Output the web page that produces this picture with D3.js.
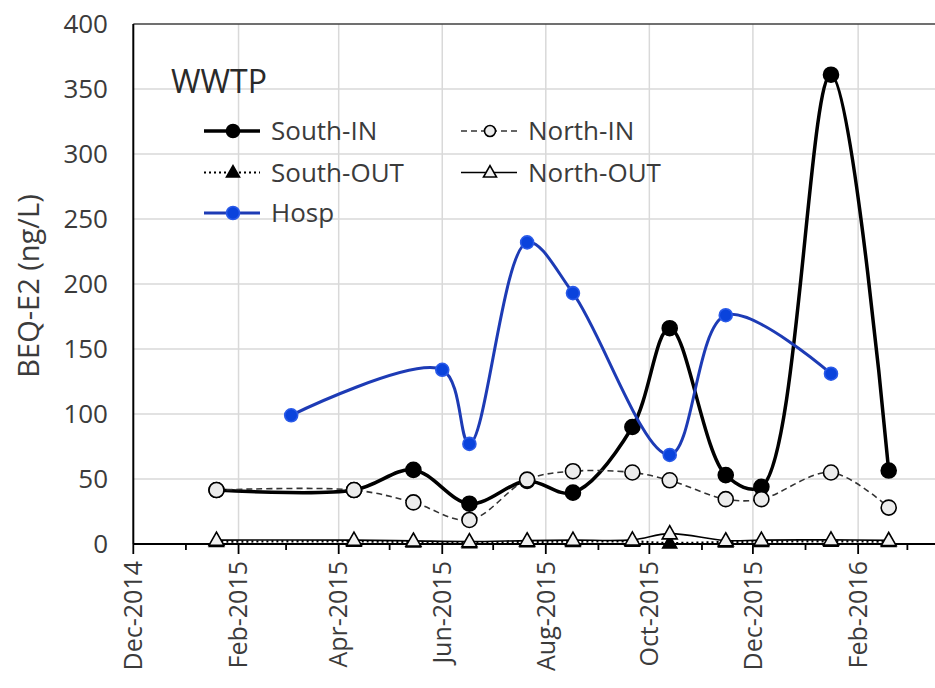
<!DOCTYPE html>
<html>
<head>
<meta charset="utf-8">
<script src="https://cdn.jsdelivr.net/npm/d3@7"></script>
<style>
  html, body { margin: 0; padding: 0; background: #ffffff; }
  svg { display: block; font-family: "Open Sans", "Noto Sans", sans-serif; }
</style>
</head>
<body>
<svg id="chart" width="935" height="688"></svg>
<script>
// Sampling dates shared by the WWTP influent/effluent series
const sampleDates = ["2015-01-19", "2015-04-10", "2015-05-15", "2015-06-17", "2015-07-21", "2015-08-17",
                     "2015-09-21", "2015-10-13", "2015-11-15", "2015-12-06", "2016-01-16", "2016-02-19"];
const southIn  = [41.5, 41.5, 57, 31, 48.5, 39.5, 90, 166, 53, 44, 361, 56.5];
const northIn  = [41.5, 41.5, 32, 18.5, 49.5, 56, 55, 49, 34.5, 34.5, 55, 28];
const southOut = [1.8, 2.0, 1.5, 1.0, 1.6, 1.8, 2.0, 0.8, 1.5, 1.8, 2.0, 1.8];
const northOut = [3.0, 3.0, 2.4, 1.9, 2.6, 3.0, 3.2, 8.0, 2.6, 3.0, 3.2, 2.8];

// Hospital effluent has its own sampling dates
const hospDates = ["2015-03-04", "2015-06-01", "2015-06-17", "2015-07-21", "2015-08-17", "2015-10-13",
                   "2015-11-15", "2016-01-16"];
const hosp = [99, 134, 77, 232, 193, 68.5, 176, 131];

const yTicks = [0, 50, 100, 150, 200, 250, 300, 350, 400];
const yTitle = "BEQ-E2 (ng/L)";
const panelTitle = "WWTP";

const parse = d3.utcParse("%Y-%m-%d");
const svg = d3.select("#chart");

const xStart = Date.UTC(2014, 11, 1), xEnd = Date.UTC(2016, 3, 1);
const x = d3.scaleUtc().domain([xStart, xEnd]).range([133.3, 960]);
const y = d3.scaleLinear().domain([0, 400]).range([544, 24]);

const textColor = "#3b3b3b";
const gridColor = "#d9d9d9";

// monthly ticks; every second month (starting at the axis origin) is a labelled major tick
const allMonths = d3.utcMonth.range(xStart, xEnd + 1);
const isMajor = (d, i) => i % 2 === 0;
const majorTicks = allMonths.filter(isMajor);

svg.append("clipPath").attr("id", "plotClip")
  .append("rect").attr("x", 120).attr("y", 10).attr("width", 840).attr("height", 560);

// gridlines
const grid = svg.append("g");
grid.selectAll("line.h").data(yTicks.filter(v => v > 0 && v < 400)).join("line")
  .attr("x1", x.range()[0]).attr("x2", 935)
  .attr("y1", d => y(d)).attr("y2", d => y(d))
  .attr("stroke", gridColor).attr("stroke-width", 1.5);
grid.selectAll("line.v").data(majorTicks.slice(1)).join("line")
  .attr("x1", d => x(d)).attr("x2", d => x(d))
  .attr("y1", y(400)).attr("y2", y(0))
  .attr("stroke", gridColor).attr("stroke-width", 1.5);

// top frame line
svg.append("line")
  .attr("x1", x.range()[0]).attr("x2", 935)
  .attr("y1", y(400)).attr("y2", y(400))
  .attr("stroke", "#404040").attr("stroke-width", 1.5);

// y tick labels
svg.append("g").selectAll("text").data(yTicks).join("text")
  .attr("x", 108).attr("y", d => y(d)).attr("dy", "0.36em")
  .attr("text-anchor", "end")
  .attr("font-size", 26).attr("fill", textColor)
  .text(d => d);

// y axis title
svg.append("text")
  .attr("transform", `translate(29,${(y(0) + y(400)) / 2 + 2}) rotate(-90)`)
  .attr("dy", "0.35em")
  .attr("text-anchor", "middle")
  .attr("font-size", 29).attr("fill", textColor)
  .text(yTitle);

// x axis: line, monthly minor ticks, bimonthly major ticks
const xAxis = svg.append("g");
xAxis.append("line")
  .attr("x1", x.range()[0]).attr("x2", 935)
  .attr("y1", y(0)).attr("y2", y(0))
  .attr("stroke", "#000").attr("stroke-width", 2);
xAxis.selectAll("line.tick").data(allMonths).join("line")
  .attr("x1", d => x(d)).attr("x2", d => x(d))
  .attr("y1", y(0)).attr("y2", (d, i) => y(0) + (isMajor(d, i) ? 10 : 6))
  .attr("stroke", "#000").attr("stroke-width", 1.8);
const fmt = d3.utcFormat("%b-%Y");
xAxis.selectAll("text").data(majorTicks.filter(d => x(d) < 935)).join("text")
  .attr("transform", d => `translate(${x(d)},561) rotate(-90)`)
  .attr("dy", "0.35em")
  .attr("text-anchor", "end")
  .attr("font-size", 25).attr("fill", textColor)
  .text(d => fmt(d));

// left axis line
svg.append("line")
  .attr("x1", x.range()[0]).attr("x2", x.range()[0])
  .attr("y1", y(400)).attr("y2", y(0))
  .attr("stroke", "#000").attr("stroke-width", 2);

// series
const curve = d3.curveCatmullRom.alpha(0.5);
const mkPts = (dates, vals) => dates.map((d, i) => ({ date: parse(d), v: vals[i] }));
const line = d3.line().x(d => x(d.date)).y(d => y(d.v)).curve(curve);

const blueLine = "#1d3bb5";
const blueDot = "#0a43dc";

const series = [
  { pts: mkPts(sampleDates, southIn), stroke: "#000", width: 3.5, dash: null, marker: "circle", fill: "#000", mstroke: "#000", r: 7.5 },
  { pts: mkPts(sampleDates, northIn), stroke: "#333", width: 1.6, dash: "6,4", marker: "circle", fill: "#ececec", mstroke: "#000", r: 7.5 },
  { pts: mkPts(sampleDates, southOut), stroke: "#000", width: 2.2, dash: "2,3", marker: "triUp", fill: "#000", mstroke: "#000", r: 7 },
  { pts: mkPts(sampleDates, northOut), stroke: "#000", width: 1.6, dash: null, marker: "triUp", fill: "#f2f2f2", mstroke: "#000", r: 7.5 },
  { pts: mkPts(hospDates, hosp), stroke: blueLine, width: 3, dash: null, marker: "circle", fill: blueDot, mstroke: "#2a5ae8", r: 6.5 }
];

const plot = svg.append("g").attr("clip-path", "url(#plotClip)");

function drawMarker(g, type, cx, cy, r, fill, stroke, sw) {
  if (type === "circle") {
    g.append("circle").attr("cx", cx).attr("cy", cy).attr("r", r)
      .attr("fill", fill).attr("stroke", stroke).attr("stroke-width", sw);
  } else {
    const h = r * 1.75;
    g.append("path")
      .attr("d", `M${cx},${cy - h * 0.6}L${cx + r},${cy + h * 0.4}L${cx - r},${cy + h * 0.4}Z`)
      .attr("fill", fill).attr("stroke", stroke).attr("stroke-width", sw).attr("stroke-linejoin", "miter");
  }
}

series.forEach(s => {
  const g = plot.append("g");
  g.append("path").datum(s.pts)
    .attr("d", line)
    .attr("fill", "none")
    .attr("stroke", s.stroke)
    .attr("stroke-width", s.width)
    .attr("stroke-dasharray", s.dash);
  s.pts.forEach(p => drawMarker(g, s.marker, x(p.date), y(p.v), s.r, s.fill, s.mstroke, 1.6));
});

// panel title
svg.append("text")
  .attr("x", 171).attr("y", 93)
  .attr("font-size", 32).attr("fill", "#2a2a2a")
  .text(panelTitle);

// legend
const legendItems = [
  { name: "South-IN", col: 0, row: 0, s: series[0], r: 6.5 },
  { name: "North-IN", col: 1, row: 0, s: series[1], r: 5.5 },
  { name: "South-OUT", col: 0, row: 1, s: series[2], r: 6.5 },
  { name: "North-OUT", col: 1, row: 1, s: series[3], r: 6.5 },
  { name: "Hosp", col: 0, row: 2, s: series[4], r: 6.5 }
];
const colX = [204, 461];
const rowY = [131, 172.5, 213];
const legend = svg.append("g");
legendItems.forEach(it => {
  const x0 = colX[it.col], cy = rowY[it.row];
  const g = legend.append("g");
  g.append("line")
    .attr("x1", x0).attr("x2", x0 + 56)
    .attr("y1", cy).attr("y2", cy)
    .attr("stroke", it.s.stroke).attr("stroke-width", it.s.width)
    .attr("stroke-dasharray", it.s.dash);
  drawMarker(g, it.s.marker, x0 + 29, cy, it.r, it.s.fill, it.s.mstroke, 1.6);
  g.append("text")
    .attr("x", x0 + 67).attr("y", cy).attr("dy", "0.36em")
    .attr("font-size", 26).attr("fill", textColor)
    .text(it.name);
});
</script>
</body>
</html>
